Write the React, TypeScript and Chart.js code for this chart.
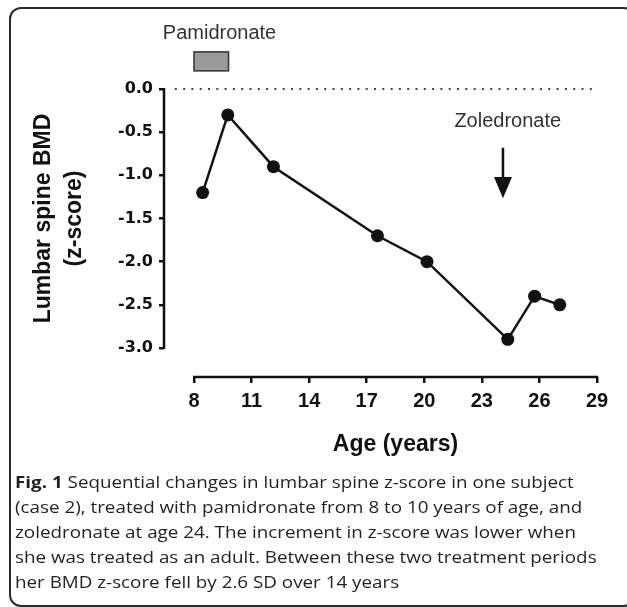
import { useEffect, useRef } from "react";
import { Chart, registerables } from "chart.js";

Chart.register(...registerables);

// ---- data ----
const ages = [8.45, 9.76, 12.14, 17.56, 20.14, 24.35, 25.75, 27.06];
const zScores = [-1.2, -0.3, -0.9, -1.7, -2.0, -2.9, -2.4, -2.5];
const xTicks = [8, 11, 14, 17, 20, 23, 26, 29];
const yTicks = [0, -0.5, -1.0, -1.5, -2.0, -2.5, -3.0];
const referenceLineX = [7, 29];
const referenceLineY = [0, 0];
const pamidronateAges = [8.0, 9.8];
const pamidronateBoxZ = [0.21, 0.43];
const pamidronateLabel = "Pamidronate";
const pamidronateLabelAt = [9.33, 0.64];
const zoledronateLabel = "Zoledronate";
const zoledronateAge = 24.1;
const zoledronateLabelAt = [24.35, -0.375];
const zoledronateArrowZ = [-0.68, -1.02, -1.265];
const xTitle = "Age (years)";
const yTitle = ["Lumbar spine BMD", "(z-score)"];
const captionBold = "Fig. 1";
const captionLines = [
  " Sequential changes in lumbar spine z-score in one subject",
  "(case 2), treated with pamidronate from 8 to 10 years of age, and",
  "zoledronate at age 24. The increment in z-score was lower when",
  "she was treated as an adult. Between these two treatment periods",
  "her BMD z-score fell by 2.6 SD over 14 years",
];

const CANVAS_W = 627;
const CANVAS_H = 460;

const annotationPlugin = {
  id: "annotations",
  afterDraw(chart: any) {
    const { ctx, chartArea, scales } = chart;
    const xs = scales.x;
    const ys = scales.y;
    const X = (v: number) => xs.getPixelForValue(v);
    const Y = (v: number) => ys.getPixelForValue(v);
    ctx.save();
    // axis lines (offset style)
    ctx.strokeStyle = "#111";
    ctx.lineWidth = 2.5;
    ctx.lineCap = "butt";
    ctx.beginPath();
    ctx.moveTo(chartArea.left, Y(yTicks[0]) - 1);
    ctx.lineTo(chartArea.left, Y(yTicks[yTicks.length - 1]) + 1);
    ctx.moveTo(X(xTicks[0]) - 1, chartArea.bottom);
    ctx.lineTo(X(xTicks[xTicks.length - 1]) + 1, chartArea.bottom);
    ctx.stroke();

    // axis titles
    ctx.fillStyle = "#111";
    ctx.font = "bold 23px 'Liberation Sans', Arial, sans-serif";
    ctx.textAlign = "center";
    ctx.textBaseline = "middle";
    ctx.fillText(xTitle, (X(xTicks[0]) + X(xTicks[xTicks.length - 1])) / 2, 445);
    const cy = (Y(yTicks[0]) + Y(yTicks[yTicks.length - 1])) / 2;
    const titleXs = [44, 75];
    yTitle.forEach((t, i) => {
      ctx.save();
      ctx.translate(titleXs[i], cy);
      ctx.rotate(-Math.PI / 2);
      ctx.fillText(t, 0, 0);
      ctx.restore();
    });

    // Pamidronate bar
    const bx1 = X(pamidronateAges[0]);
    const bx2 = X(pamidronateAges[1]);
    const by1 = Y(pamidronateBoxZ[1]);
    const by2 = Y(pamidronateBoxZ[0]);
    ctx.fillStyle = "#9a9a9a";
    ctx.fillRect(bx1, by1, bx2 - bx1, by2 - by1);
    ctx.strokeStyle = "#333";
    ctx.lineWidth = 1.5;
    ctx.strokeRect(bx1, by1, bx2 - bx1, by2 - by1);

    ctx.fillStyle = "#333";
    ctx.font = "20px 'Liberation Sans', Arial, sans-serif";
    ctx.fillText(pamidronateLabel, X(pamidronateLabelAt[0]), Y(pamidronateLabelAt[1]));
    ctx.fillText(zoledronateLabel, X(zoledronateLabelAt[0]), Y(zoledronateLabelAt[1]));

    // Zoledronate arrow
    const ax = X(zoledronateAge);
    ctx.strokeStyle = "#111";
    ctx.lineWidth = 2.5;
    ctx.beginPath();
    ctx.moveTo(ax, Y(zoledronateArrowZ[0]));
    ctx.lineTo(ax, Y(zoledronateArrowZ[1]) + 2);
    ctx.stroke();
    ctx.fillStyle = "#111";
    ctx.beginPath();
    ctx.moveTo(ax - 9, Y(zoledronateArrowZ[1]));
    ctx.lineTo(ax + 9, Y(zoledronateArrowZ[1]));
    ctx.lineTo(ax, Y(zoledronateArrowZ[2]));
    ctx.closePath();
    ctx.fill();
    ctx.restore();
  },
};

export default function App() {
  const ref = useRef<HTMLCanvasElement | null>(null);

  useEffect(() => {
    if (!ref.current) return;
    const chart = new Chart(ref.current, {
      type: "line",
      data: {
        datasets: [
          {
            label: "reference",
            data: referenceLineX.map((x, i) => ({ x, y: referenceLineY[i] })),
            borderColor: "#444",
            borderWidth: 2,
            borderDash: [2, 6.3],
            pointRadius: 0,
            clip: false as any,
          },
          {
            label: "z-score",
            data: ages.map((x, i) => ({ x, y: zScores[i] })),
            borderColor: "#111",
            borderWidth: 2.5,
            pointRadius: 6.5,
            pointBackgroundColor: "#111",
            pointBorderColor: "#111",
            pointBorderWidth: 0,
            tension: 0,
            clip: false as any,
          },
        ],
      },
      options: {
        responsive: false,
        animation: false,
        devicePixelRatio: 1,
        layout: { padding: { left: 0, top: 89, right: 30, bottom: 0 } },
        plugins: { legend: { display: false }, tooltip: { enabled: false } },
        scales: {
          x: {
            type: "linear",
            min: 6.437,
            max: 29,
            afterBuildTicks: (s: any) => {
              s.ticks = xTicks.map((v) => ({ value: v }));
            },
            afterFit: (s: any) => {
              s.height = CANVAS_H - 377;
            },
            border: { display: false },
            grid: {
              drawOnChartArea: false,
              drawTicks: true,
              tickLength: 6,
              color: "#111",
              lineWidth: 2.5,
            },
            ticks: {
              autoSkip: false,
              maxRotation: 0,
              padding: 6,
              color: "#111",
              font: { family: "'Liberation Sans', Arial, sans-serif", size: 20, weight: "bold" },
              callback: (v: any) => String(v),
            },
          },
          y: {
            type: "linear",
            min: -3.336,
            max: 0,
            afterBuildTicks: (s: any) => {
              s.ticks = yTicks.map((v) => ({ value: v }));
            },
            afterFit: (s: any) => {
              s.width = 164;
            },
            border: { display: false },
            grid: {
              drawOnChartArea: false,
              drawTicks: true,
              tickLength: 5,
              color: "#111",
              lineWidth: 2.5,
            },
            ticks: {
              autoSkip: false,
              padding: 6,
              color: "#111",
              font: { family: "'DejaVu Sans', sans-serif", size: 16, weight: "bold" },
              callback: (v: any) => Number(v).toFixed(1),
            },
          },
        },
      },
      plugins: [annotationPlugin],
    });
    return () => chart.destroy();
  }, []);

  return (
    <div
      style={{
        position: "fixed",
        left: 0,
        top: 0,
        width: 627,
        height: 607,
        overflow: "hidden",
        background: "#fff",
      }}
    >
      <canvas
        ref={ref}
        width={CANVAS_W}
        height={CANVAS_H}
        style={{ position: "absolute", left: 0, top: 0, width: CANVAS_W, height: CANVAS_H }}
      />
      <div
        style={{
          position: "absolute",
          left: 9,
          top: 7,
          width: 627,
          height: 600,
          border: "2px solid #2a2a2a",
          borderRadius: 12,
          boxSizing: "border-box",
        }}
      />
      {captionLines.map((line, i) => (
        <div
          key={i}
          style={{
            position: "absolute",
            left: 15,
            top: 469 + i * 25,
            whiteSpace: "nowrap",
            fontFamily: "'Open Sans', sans-serif",
            fontSize: 16.5,
            lineHeight: "25px",
            color: "#231f20",
            transform: "scaleX(1.14)",
            transformOrigin: "left center",
          }}
        >
          {i === 0 ? <b>{captionBold}</b> : null}
          {line}
        </div>
      ))}
    </div>
  );
}
